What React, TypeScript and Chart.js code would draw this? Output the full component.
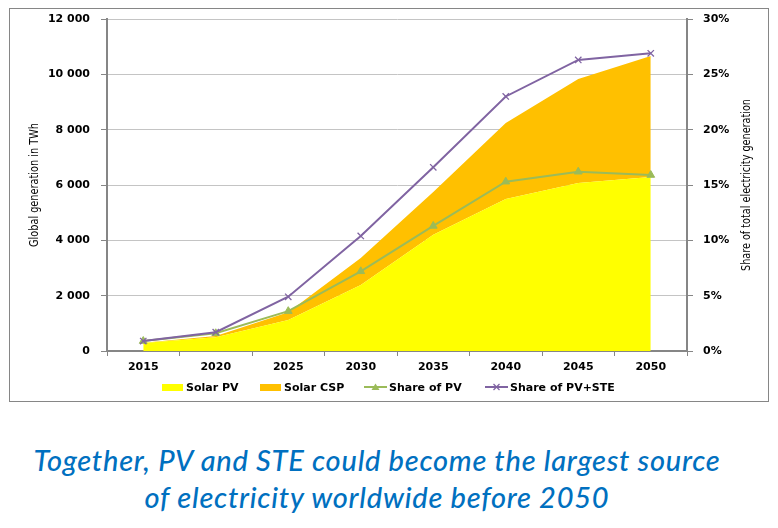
import React, { useEffect, useRef } from "react";
import { Chart, registerables } from "chart.js";

Chart.register(...registerables);

const years = ["2015", "2020", "2025", "2030", "2035", "2040", "2045", "2050"];
const solarPV = [290, 500, 1120, 2385, 4200, 5490, 6070, 6290];
const solarCSP = [10, 40, 280, 975, 1550, 2750, 3760, 4370];
const shareOfPV = [0.9, 1.6, 3.6, 7.2, 11.3, 15.3, 16.2, 15.9];
const shareOfPVSTE = [0.9, 1.7, 4.9, 10.4, 16.6, 23.0, 26.3, 26.9];

const leftTitle = "Global generation in TWh";
const rightTitle = "Share of total electricity generation";
const captionLines = [
  "Together, PV and STE could become the largest source",
  "of electricity worldwide before 2050",
];

const YELLOW = "#FFFF00";
const ORANGE = "#FFC000";
const GREEN = "#9BBB59";
const PURPLE = "#8064A2";
const AXIS = "#868686";
const TITLE_FONT = "12px 'Liberation Sans Narrow', 'DejaVu Sans Condensed', 'Arial Narrow', 'DejaVu Sans', sans-serif";

const fmtThousands = (v: number) => {
  if (v >= 1000) return `${Math.floor(v / 1000)} ${String(v % 1000).padStart(3, "0")}`;
  return String(v);
};

function drawVerticalTitle(ctx: any, text: string, x: number, y: number, targetLen: number) {
  ctx.save();
  ctx.fillStyle = "#000";
  ctx.font = TITLE_FONT;
  ctx.textAlign = "center";
  ctx.textBaseline = "middle";
  const w = ctx.measureText(text).width;
  const sx = w > 0 ? targetLen / w : 1;
  ctx.translate(x, y);
  ctx.rotate(-Math.PI / 2);
  ctx.scale(sx, 1.05);
  ctx.fillText(text, 0, 0);
  ctx.restore();
}

const titlesPlugin = {
  id: "axisTitles",
  afterDraw(chart: any) {
    const ctx = chart.ctx;
    const area = chart.chartArea;
    const cy = (area.top + area.bottom) / 2;
    drawVerticalTitle(ctx, leftTitle, 35, cy, 124);
    drawVerticalTitle(ctx, rightTitle, 747, cy, 172);
  },
};

const tickFont = { family: "'DejaVu Sans', Verdana, sans-serif", size: 11, weight: "bold" as const };

function Marker({ kind }: { kind: string }) {
  if (kind === "yellow" || kind === "orange") {
    return (
      <span
        style={{
          display: "inline-block",
          width: 21,
          height: 7,
          background: kind === "yellow" ? YELLOW : ORANGE,
          marginRight: 3,
        }}
      />
    );
  }
  const color = kind === "green" ? GREEN : PURPLE;
  return (
    <svg width={23} height={10} style={{ marginRight: 2 }}>
      <line x1={0} y1={5} x2={23} y2={5} stroke={color} strokeWidth={2} />
      {kind === "green" ? (
        <polygon points="11.5,1.5 15.5,8 7.5,8" fill={color} />
      ) : (
        <g stroke={color} strokeWidth={1.3}>
          <line x1={8.5} y1={2} x2={14.5} y2={8} />
          <line x1={14.5} y1={2} x2={8.5} y2={8} />
        </g>
      )}
    </svg>
  );
}

export default function App() {
  const canvasRef = useRef<HTMLCanvasElement | null>(null);

  useEffect(() => {
    const canvas = canvasRef.current;
    if (!canvas) return;
    const chart = new Chart(canvas, {
      type: "line",
      data: {
        labels: years,
        datasets: [
          {
            label: "Solar PV",
            data: solarPV,
            yAxisID: "y",
            backgroundColor: YELLOW,
            borderColor: YELLOW,
            borderWidth: 0,
            pointRadius: 0,
            fill: "origin",
            order: 2,
            stack: "gen",
          },
          {
            label: "Solar CSP",
            data: solarCSP,
            yAxisID: "y",
            backgroundColor: ORANGE,
            borderColor: ORANGE,
            borderWidth: 0,
            pointRadius: 0,
            fill: "-1",
            order: 2,
            stack: "gen",
          },
          {
            label: "Share of PV",
            data: shareOfPV,
            yAxisID: "y1",
            borderColor: GREEN,
            backgroundColor: GREEN,
            borderWidth: 2,
            pointStyle: "triangle",
            pointRadius: 4.5,
            pointBorderWidth: 1,
            fill: false,
            order: 1,
          },
          {
            label: "Share of PV+STE",
            data: shareOfPVSTE,
            yAxisID: "y1",
            borderColor: PURPLE,
            backgroundColor: PURPLE,
            borderWidth: 2,
            pointStyle: "crossRot",
            pointRadius: 4.5,
            pointBorderWidth: 1.3,
            fill: false,
            order: 0,
          },
        ],
      },
      options: {
        responsive: false,
        animation: false,
        layout: { padding: { top: 19, left: 0, right: 0, bottom: 0 } },
        plugins: {
          legend: { display: false },
          tooltip: { enabled: false },
        },
        scales: {
          x: {
            type: "category",
            offset: true,
            grid: {
              offset: true,
              drawOnChartArea: false,
              tickLength: 5,
              color: AXIS,
              tickColor: AXIS,
            },
            border: { color: AXIS, width: 2 },
            ticks: { font: tickFont, color: "#000", padding: 5, maxRotation: 0 },
            afterFit: (s: any) => {
              s.height = 59;
            },
          },
          y: {
            type: "linear",
            position: "left",
            stacked: true,
            min: 0,
            max: 12000,
            ticks: {
              stepSize: 2000,
              font: tickFont,
              color: "#000",
              padding: 11,
              callback: (v: any) => fmtThousands(Number(v)),
            },
            grid: { color: "#C4C4C4", lineWidth: 1, tickLength: 6, tickColor: AXIS },
            border: { color: AXIS, width: 2 },
            afterFit: (s: any) => {
              s.width = 107;
            },
          },
          y1: {
            type: "linear",
            position: "right",
            min: 0,
            max: 30,
            ticks: {
              stepSize: 5,
              font: tickFont,
              color: "#000",
              padding: 10,
              callback: (v: any) => `${v}%`,
            },
            grid: { drawOnChartArea: false, tickLength: 6, color: AXIS, tickColor: AXIS },
            border: { color: AXIS, width: 2 },
            afterFit: (s: any) => {
              s.width = 91;
            },
          },
        },
      },
      plugins: [titlesPlugin],
    } as any);
    return () => chart.destroy();
  }, []);

  const legendItems = [
    { kind: "yellow", label: "Solar PV", left: 162 },
    { kind: "orange", label: "Solar CSP", left: 260 },
    { kind: "green", label: "Share of PV", left: 364 },
    { kind: "purple", label: "Share of PV+STE", left: 485 },
  ];

  return (
    <div style={{ position: "absolute", left: 0, top: 0, width: 778, height: 528, background: "#fff" }}>
      <div
        style={{
          position: "absolute",
          left: 9,
          top: 8,
          width: 760,
          height: 394,
          border: `1px solid ${AXIS}`,
          boxSizing: "border-box",
        }}
      />
      <canvas
        ref={canvasRef}
        width={778}
        height={410}
        style={{ position: "absolute", left: 0, top: 0, width: 778, height: 410 }}
      />
      {legendItems.map((it) => (
        <div
          key={it.label}
          style={{
            position: "absolute",
            left: it.left,
            top: 379,
            height: 16,
            display: "flex",
            alignItems: "center",
            fontFamily: "'DejaVu Sans', Verdana, sans-serif",
            fontWeight: "bold",
            fontSize: 11,
            color: "#000",
            whiteSpace: "nowrap",
          }}
        >
          <Marker kind={it.kind} />
          <span>{it.label}</span>
        </div>
      ))}
      <div
        style={{
          position: "absolute",
          left: 0,
          top: 441,
          width: 754,
          textAlign: "center",
          fontFamily: "Lato, 'Open Sans', sans-serif",
          fontStyle: "italic",
          fontWeight: 500,
          fontSize: 29,
          letterSpacing: "0.75px",
          lineHeight: "37px",
          color: "#0070C0",
        }}
      >
        {captionLines.map((l) => (
          <div key={l} style={{ whiteSpace: "nowrap" }}>
            {l}
          </div>
        ))}
      </div>
    </div>
  );
}
